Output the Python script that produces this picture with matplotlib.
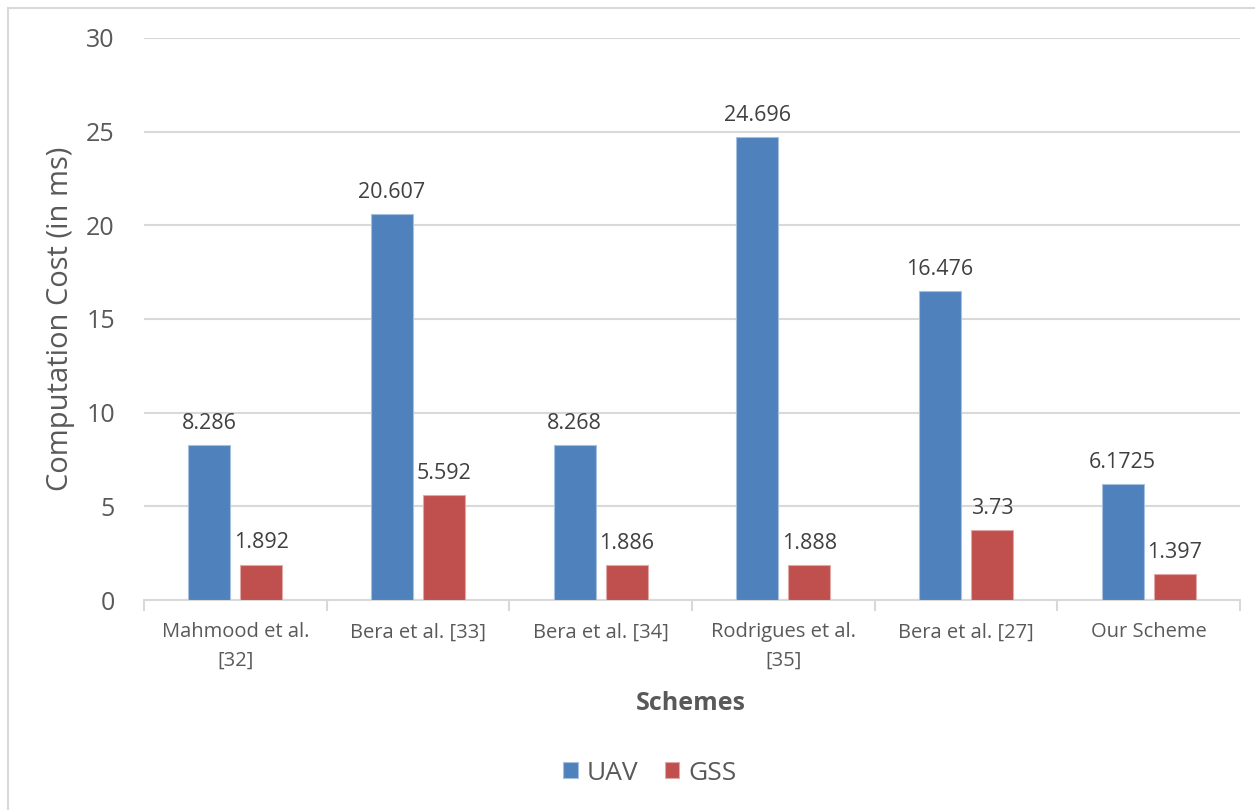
import numpy as np
import matplotlib.pyplot as plt
from matplotlib.lines import Line2D

# data
schemes = ["Mahmood et al.\n[32]", "Bera et al. [33]", "Bera et al. [34]",
           "Rodrigues et al.\n[35]", "Bera et al. [27]", "Our Scheme"]
uav = [8.286, 20.607, 8.268, 24.696, 16.476, 6.1725]
gss = [1.892, 5.592, 1.886, 1.888, 3.73, 1.397]
uav_labels = ["8.286", "20.607", "8.268", "24.696", "16.476", "6.1725"]
gss_labels = ["1.892", "5.592", "1.886", "1.888", "3.73", "1.397"]
yticks = [0, 5, 10, 15, 20, 25, 30]

plt.rcParams['font.family'] = ['Open Sans', 'DejaVu Sans']
txt = "#595959"
grid = "#D9D9D9"

W, H = 1255, 810
fig = plt.figure(figsize=(W / 100, H / 100), dpi=100)
ax = fig.add_axes([144 / W, 1 - 600 / H, (1240 - 144) / W, (600 - 38) / H])

x = np.arange(len(schemes))
bw = 0.23
off = 0.142
b1 = ax.bar(x - off, uav, bw, color="#4F81BD", edgecolor="#A7C0DE", linewidth=0.8, label="UAV", zorder=3)
b2 = ax.bar(x + off, gss, bw, color="#C0504D", edgecolor="#E0A9A8", linewidth=0.8, label="GSS", zorder=3)

for rect, lab in zip(b1, uav_labels):
    ax.annotate(lab, (rect.get_x() + rect.get_width() / 2, rect.get_height()),
                xytext=(0, 8), textcoords="offset points", ha="center", va="bottom",
                fontsize=15.5, color="#404040")
for rect, lab in zip(b2, gss_labels):
    ax.annotate(lab, (rect.get_x() + rect.get_width() / 2, rect.get_height()),
                xytext=(0, 8), textcoords="offset points", ha="center", va="bottom",
                fontsize=15.5, color="#404040")

ax.set_xlim(-0.5, len(schemes) - 0.5)
ax.set_ylim(0, 30)
ax.set_yticks(yticks)
ax.tick_params(axis="y", length=0, labelsize=18, labelcolor=txt, pad=21)
ax.yaxis.grid(True, color=grid, linewidth=1.5, zorder=0)
ax.set_axisbelow(True)

# category labels centred, tick marks at boundaries
ax.set_xticks(x)
ax.set_xticklabels(schemes, fontsize=14.5, color=txt, linespacing=1.55)
ax.tick_params(axis="x", length=0, pad=16)
ax.set_xticks(np.arange(len(schemes) + 1) - 0.5, minor=True)
ax.tick_params(axis="x", which="minor", length=8, width=1.5, color=grid)

for s in ["top", "right", "left"]:
    ax.spines[s].set_visible(False)
ax.spines["bottom"].set_color(grid)
ax.spines["bottom"].set_linewidth(1.5)

ax.set_ylabel("Computation Cost (in ms)", fontsize=21, color=txt, labelpad=8)
fig.text(691 / W, 1 - 703 / H, "Schemes", fontsize=18, fontweight="bold",
         color=txt, ha="center", va="center")

fig.legend(handles=[b1, b2], loc="center", bbox_to_anchor=(650 / W, 1 - 773 / H), ncol=2,
           frameon=False, fontsize=19, handlelength=0.55, handleheight=0.55,
           handletextpad=0.35, columnspacing=1.0, labelcolor=txt)

# outer chart border (cropped on right and bottom)
fig.add_artist(Line2D([8 / W, 1], [1 - 8 / H, 1 - 8 / H], color=grid, lw=1.5, transform=fig.transFigure))
fig.add_artist(Line2D([8 / W, 8 / W], [0, 1 - 8 / H], color=grid, lw=1.5, transform=fig.transFigure))

fig.savefig("out.png", dpi=100)
